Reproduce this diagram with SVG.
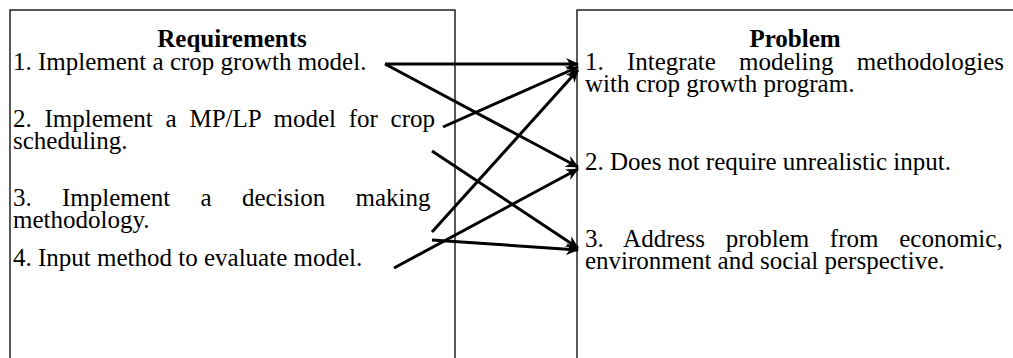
<svg xmlns="http://www.w3.org/2000/svg" width="1013" height="358" viewBox="0 0 1013 358">
<style>
text{font-family:"Liberation Serif","Times New Roman",serif;font-size:25px;fill:#000}
.t{font-weight:bold;text-anchor:middle}
.box{fill:none;stroke:#000;stroke-width:1.3}
.c{stroke:#000;stroke-width:3;fill:none;marker-end:url(#ah)}
</style>
<defs>
<marker id="ah" markerWidth="14" markerHeight="12" refX="12" refY="6" orient="auto" markerUnits="userSpaceOnUse">
<path d="M0,0 L13,6 L0,12 L4,6 Z" fill="#000"/>
</marker>
</defs>
<g id="requirements">
<rect class="box" x="10" y="10" width="445" height="360"/>
<text class="t" x="232" y="47">Requirements</text>
<text x="13" y="70">1. Implement a crop growth model.</text>
<text x="13" y="127" word-spacing="6.5">2. Implement a MP/LP model for crop</text>
<text x="13" y="149">scheduling.</text>
<text x="13" y="206" word-spacing="24">3. Implement a decision making</text>
<text x="13" y="228">methodology.</text>
<text x="13" y="266">4. Input method to evaluate model.</text>
</g>
<g id="problem">
<rect class="box" x="577" y="10" width="450" height="360"/>
<text class="t" x="795" y="47">Problem</text>
<text x="585" y="70" word-spacing="17">1. Integrate modeling methodologies</text>
<text x="585" y="92">with crop growth program.</text>
<text x="585" y="170">2. Does not require unrealistic input.</text>
<text x="585" y="247" word-spacing="14.5">3. Address problem from economic,</text>
<text x="585" y="269">environment and social perspective.</text>
</g>
<g id="connectors">
<path class="c" d="M385,64 L578,64"/>
<path class="c" d="M385,64 L578,167"/>
<path class="c" d="M443,127 L578,67"/>
<path class="c" d="M432,151 L578,248"/>
<path class="c" d="M432,232 L578,70"/>
<path class="c" d="M432,240 L578,250"/>
<path class="c" d="M394,268 L578,169"/>
</g>
</svg>
